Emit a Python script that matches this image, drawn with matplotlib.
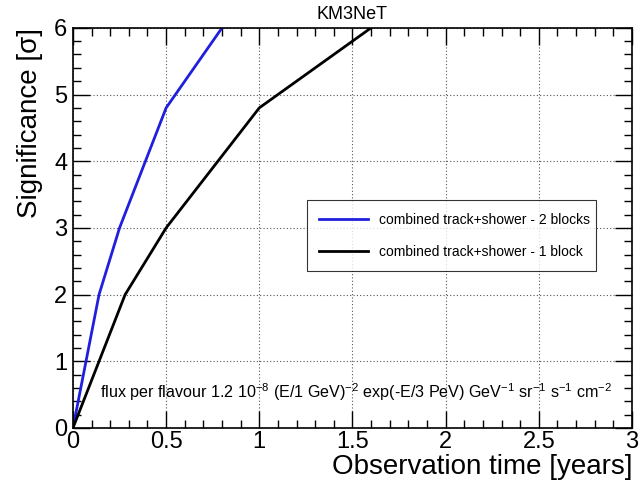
import matplotlib
matplotlib.use("Agg")
import matplotlib.pyplot as plt
from matplotlib.ticker import MultipleLocator

plt.rcParams['font.family'] = ['Liberation Sans', 'DejaVu Sans']
plt.rcParams['mathtext.fontset'] = 'custom'
plt.rcParams['mathtext.rm'] = 'Liberation Sans'
plt.rcParams['mathtext.it'] = 'Liberation Sans'

# ---------------- Data ----------------
years_2blocks = [0.0, 0.14, 0.25, 0.5, 0.8]
sigma_2blocks = [0.0, 2.0, 3.0, 4.8, 6.0]

years_1block = [0.0, 0.28, 0.5, 1.0, 1.6]
sigma_1block = [0.0, 2.0, 3.0, 4.8, 6.0]

label_2blocks = "combined track+shower - 2 blocks"
label_1block = "combined track+shower - 1 block"

x_ticks = [0, 0.5, 1, 1.5, 2, 2.5, 3]
x_ticklabels = ["0", "0.5", "1", "1.5", "2", "2.5", "3"]

# ---------------- Plot ----------------
fig = plt.figure(figsize=(6.4, 4.88), dpi=100)
ax = fig.add_axes([0.114, 0.123, 0.8735, 0.82])

ax.plot(years_2blocks, sigma_2blocks, color="#1f1fdd", lw=2, label=label_2blocks)
ax.plot(years_1block, sigma_1block, color="black", lw=2, label=label_1block)

ax.set_xlim(0, 3)
ax.set_ylim(0, 6)
ax.set_xticks(x_ticks)
ax.set_xticklabels(x_ticklabels)
ax.xaxis.set_minor_locator(MultipleLocator(0.1))
ax.yaxis.set_major_locator(MultipleLocator(1))
ax.yaxis.set_minor_locator(MultipleLocator(0.2))
ax.tick_params(which="both", direction="in", top=True, right=True, labelsize=17)
ax.tick_params(which="major", length=12, width=1)
ax.tick_params(which="minor", length=6, width=1)
ax.tick_params(axis="x", pad=2)
ax.tick_params(axis="y", pad=4)
ax.grid(True, which="major", ls=(0, (1, 2)), color="#555555", lw=0.8)
for s in ax.spines.values():
    s.set_linewidth(1.2)

ax.set_xlabel("Observation time [years]", fontsize=20, loc="right", labelpad=1)
ax.set_ylabel("Significance [σ]", fontsize=20, loc="top", labelpad=8)
fig.text(0.55, 0.988, "KM3NeT", ha="center", va="top", fontsize=13)

leg = ax.legend(loc="center", bbox_to_anchor=(0.406, 0.39, 0.542, 0.18), mode="expand",
                fontsize=10, frameon=True, fancybox=False, edgecolor="black",
                handlelength=3.5, borderpad=0.9, labelspacing=1.3)
leg.get_frame().set_linewidth(0.8)

ax.text(0.048, 0.09,
        r"flux per flavour 1.2 10$^{-8}$ (E/1 GeV)$^{-2}$ exp(-E/3 PeV) "
        r"GeV$^{-1}$ sr$^{-1}$ s$^{-1}$ cm$^{-2}$",
        transform=ax.transAxes, fontsize=11.6, va="center")

fig.savefig("out.png", dpi=100)
